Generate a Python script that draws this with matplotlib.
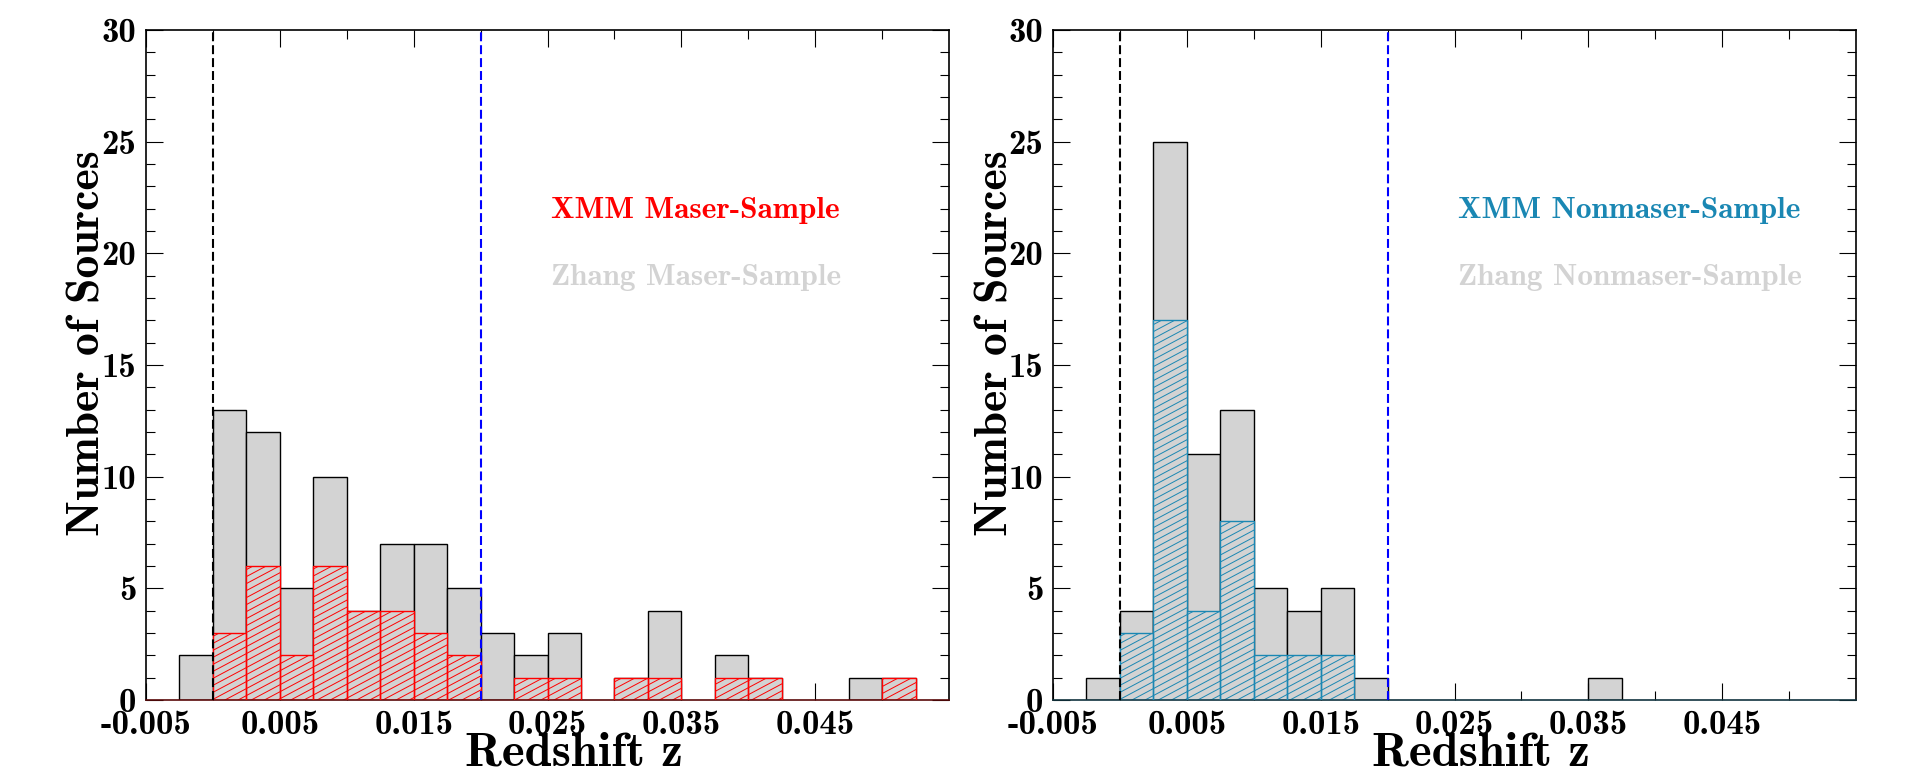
import numpy as np
import matplotlib.pyplot as plt
from matplotlib.collections import LineCollection
from matplotlib.ticker import FixedLocator, FixedFormatter, MultipleLocator

plt.rcParams.update({"font.family": "cmb10", "axes.unicode_minus": False})

BIN0, BINW = -0.0025, 0.0025          # first bin edge, bin width
GREY, RED, TEAL = "#d3d3d3", "#ff0000", "#1a87b3"

# counts per redshift bin, starting at z = -0.0025
zhang_maser = [2, 13, 12, 5, 10, 4, 7, 7, 5, 3, 2, 3, 0, 1, 4, 0, 2, 1, 0, 0, 1, 1]
xmm_maser   = [0, 3, 6, 2, 6, 4, 4, 3, 2, 0, 1, 1, 0, 1, 1, 0, 1, 1, 0, 0, 0, 1]
zhang_non   = [1, 4, 25, 11, 13, 5, 4, 5, 1, 0, 0, 0, 0, 0, 0, 1]
xmm_non     = [0, 3, 17, 4, 8, 2, 2, 2, 0]

XMAJ = [-0.005, 0.005, 0.015, 0.025, 0.035, 0.045]
XLAB = ["-0.005", "0.005", "0.015", "0.025", "0.035", "0.045"]
XMIN = [0.0, 0.01, 0.02, 0.03, 0.04, 0.05]


def bars(ax, counts, **kw):
    x = BIN0 + BINW * np.arange(len(counts))
    c = np.array(counts)
    keep = c > 0
    return ax.bar(x[keep], c[keep], width=BINW, align="edge", **kw)


def hatch(ax, patches, color, angle=28, step=7.0):
    # slanted hatch lines, clipped to each bar
    w, h = ax.bbox.width, ax.bbox.height
    k = np.tan(np.radians(angle)) * w / h
    segs = [[(0, b), (1, b + k)] for b in np.arange(-k, 1, step / h)]
    for p in patches:
        lc = LineCollection(segs, colors=color, lw=0.7, transform=ax.transAxes, zorder=2.5)
        ax.add_collection(lc, autolim=False)
        lc.set_clip_path(p)


def panel(ax, zhang, xmm, color, base, labels):
    bars(ax, zhang, color=GREY, edgecolor="black", lw=1.0, zorder=1)
    fill = bars(ax, xmm, color=GREY, edgecolor="none", zorder=2)
    hatch(ax, fill, color)
    bars(ax, xmm, facecolor="none", edgecolor=color, lw=1.0, zorder=3)
    ax.axvline(0.0, color="black", ls=(0, (4.3, 1.9)), lw=1.5, zorder=4)
    ax.axvline(0.02, color="blue", ls=(0, (4.3, 1.9)), lw=1.5, zorder=4)

    ax.set_xlim(-0.005, 0.055)
    ax.set_ylim(0, 30)
    ax.xaxis.set_major_locator(FixedLocator(XMAJ))
    ax.xaxis.set_major_formatter(FixedFormatter(XLAB))
    ax.xaxis.set_minor_locator(FixedLocator(XMIN))
    ax.yaxis.set_major_locator(MultipleLocator(5))
    ax.yaxis.set_minor_locator(MultipleLocator(1))
    ax.tick_params(which="both", direction="in", top=True, right=True,
                   width=0.8, labelsize=25, pad=7)
    ax.tick_params(which="major", length=12)
    ax.tick_params(which="minor", length=6.5)
    for s in ax.spines.values():
        s.set_linewidth(1.2)
    ax.spines["bottom"].set_color(base)
    ticks = ax.yaxis.get_major_ticks()
    ticks[0].label1.set_va("bottom")
    ticks[-1].label1.set_va("top")

    ax.set_xlabel("Redshift z", fontsize=35)
    ax.xaxis.set_label_coords(0.533, -66 / 670)
    ax.xaxis.label.set_va("baseline")
    ax.set_ylabel("Number of Sources", fontsize=33)
    ax.yaxis.set_label_coords(-46 / 803, 0.533)
    ax.yaxis.label.set_va("baseline")
    ax.text(0.504, 0.731, labels[0], transform=ax.transAxes, color=color,
            fontsize=22.5, va="center")
    ax.text(0.504, 0.630, labels[1], transform=ax.transAxes, color=GREY,
            fontsize=22.5, va="center")


fig = plt.figure(figsize=(19.09, 7.73), dpi=100)
ax1 = fig.add_axes([146 / 1909, 1 - 700 / 773, 803 / 1909, 670 / 773])
ax2 = fig.add_axes([1053 / 1909, 1 - 700 / 773, 803 / 1909, 670 / 773])

panel(ax1, zhang_maser, xmm_maser, RED, "#5a0a0a",
      ["XMM Maser-Sample", "Zhang Maser-Sample"])
panel(ax2, zhang_non, xmm_non, TEAL, "#12343f",
      ["XMM Nonmaser-Sample", "Zhang Nonmaser-Sample"])

fig.savefig("out.png", dpi=100)
